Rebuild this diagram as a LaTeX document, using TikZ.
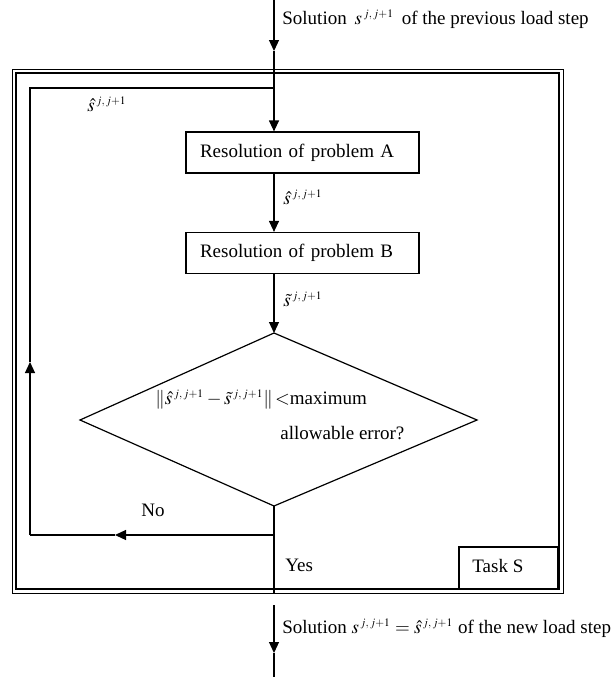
\documentclass[tikz,border=0pt]{standalone}
\usepackage{mathptmx}
\usepackage[no-math]{fontspec}
\setmainfont{Liberation Serif}
\usetikzlibrary{arrows.meta}
\newcommand{\jsup}{^{\,\scriptscriptstyle j,\,j+1}}
\tikzset{
  conn/.style={line width=0.6pt},
  arr/.style={conn,-{Triangle[length=5.5pt,width=5pt]}},
  procbox/.style={draw,line width=0.6pt,text width=102.5pt,inner xsep=7pt,align=left,minimum height=20.5pt,inner ysep=0pt},
  lbl/.style={inner sep=0pt,anchor=west},
  every node/.style={font=\fontsize{9.5}{11}\selectfont}
}
\begin{document}
\begin{tikzpicture}[x=0.5pt,y=-0.5pt]
\useasboundingbox (0,0) rectangle (613,680);
% frame
\draw[line width=0.5pt] (12,69) rectangle (563,593);
\draw[line width=0.7pt] (16,73) rectangle (559,589);
\node[draw,line width=0.6pt,minimum width=49.5pt,minimum height=21pt,inner sep=0pt] (task) at (508.5,568) {};
\node[lbl] (tasktxt) at (472,566) {Task S};
% boxes
\node[procbox] (A) at (302.5,152.5) {Resolution of problem A};
\node[procbox] (B) at (302.5,253) {Resolution of problem B};
% coordinates
\coordinate (top) at (274,0);
\coordinate (topmid) at (274,51);
\coordinate (loopTR) at (274,88);
\coordinate (loopTL) at (30,88);
\coordinate (loopBL) at (30,535);
\coordinate (loopBR) at (274,535);
\coordinate (upmid) at (30,362);
\coordinate (leftmid) at (115,535);
\coordinate (framebot) at (274,593);
\coordinate (botstart) at (274,605);
\coordinate (botmid) at (274,653);
\coordinate (botend) at (274,677);
\coordinate (dt) at (274,333);
\coordinate (dr) at (477,420);
\coordinate (db) at (274,506);
\coordinate (dl) at (80,420);
% diamond
\draw[conn] (dt) -- (dr) -- (db) -- (dl) -- cycle;
% connectors
\draw[arr] (top) -- (topmid);
\draw[conn] (topmid) -- (loopTR);
\draw[arr] (loopTR) -- (A.north -| loopTR);
\draw[arr] (A.south -| loopTR) -- (B.north -| loopTR);
\draw[arr] (B.south -| loopTR) -- (dt);
\draw[conn] (db) -- (loopBR) -- (framebot);
\draw[arr] (loopBR) -- (leftmid);
\draw[conn] (leftmid) -- (loopBL);
\draw[arr] (loopBL) -- (upmid);
\draw[conn] (upmid) -- (loopTL) -- (loopTR);
\draw[arr] (botstart) -- (botmid);
\draw[conn] (botmid) -- (botend);
% labels
\node[lbl] (toplbl) at (282,19) {Solution\ \,$s\jsup$\ \,of the previous load step};
\node[lbl] (hat1) at (87,104) {$\hat{s}\jsup$};
\node[lbl] (hat2) at (283,197) {$\hat{s}\jsup$};
\node[lbl] (til1) at (283,299) {$\tilde{s}\jsup$};
\node[lbl] (cond1) at (155,400) {$\|\hat{s}\jsup-\tilde{s}\jsup\|\!<$maximum};
\node[lbl] (cond2) at (280,433) {allowable error?};
\node[lbl] (no) at (141,510) {No};
\node[lbl] (yes) at (285,565) {Yes};
\node[lbl] (botlbl) at (282,628) {Solution $s\jsup=\hat{s}\jsup$ of the new load step};
\end{tikzpicture}
\end{document}
